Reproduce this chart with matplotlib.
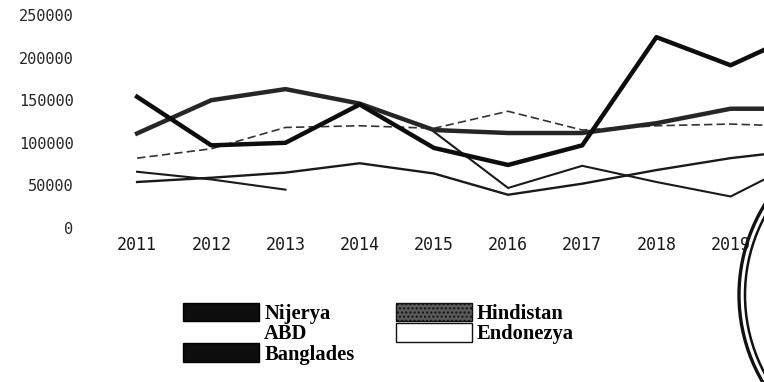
import numpy as np
import matplotlib
matplotlib.use("Agg")
import matplotlib.pyplot as plt
import matplotlib.patches as mpatches

# yearly values per country (last year only partly in view)
YEARS = [2011, 2012, 2013, 2014, 2015, 2016, 2017, 2018, 2019, 2020]
NIJERYA   = [154000,  97000, 100000, 145000,  94000,  74000,  97000, 224000, 191000, 231000]
HINDISTAN = [111000, 150000, 163000, 146000, 115000, 111500, 111500, 123000, 140000, 140000]
ABD       = [ 82000,  93000, 118000, 120000, 117000, 137000, 115000, 120000, 122000, 119000]
ENDONEZYA = [ 54000,  59000,  65000,  76000,  64000,  39000,  52000,  68000,  82000,  92000]
BANGLADES = [ 66000,  57000,  45000,  np.nan, 113000,  47000,  73000,  54000,  37000,  81000]

Y_TICKS = [0, 50000, 100000, 150000, 200000, 250000]
X_TICKS = [2011, 2012, 2013, 2014, 2015, 2016, 2017, 2018, 2019]
LEGEND_NAMES = ["Nijerya", "ABD", "Banglades", "Hindistan", "Endonezya"]

W, H = 764, 382
fig = plt.figure(figsize=(W / 100, H / 100), dpi=100)
ax = fig.add_axes([100 / W, (H - 228) / H, 1 - 100 / W, 213 / H])

ax.plot(YEARS, NIJERYA, color="#0d0d0d", lw=3.2, zorder=4)
ax.plot(YEARS, HINDISTAN, color="#262626", lw=3.2, zorder=3)
ax.plot(YEARS, ABD, color="#333333", lw=1.2, ls=(0, (5, 2.5)), zorder=2)
ax.plot(YEARS, ENDONEZYA, color="#1a1a1a", lw=1.7, zorder=2)
ax.plot(YEARS, BANGLADES, color="#1a1a1a", lw=1.5, zorder=2)

ax.set_xlim(2010.5, 2019.45)
ax.set_ylim(0, 250000)
ax.set_xticks(X_TICKS)
ax.set_xticklabels([str(y) for y in X_TICKS])
ax.set_yticks(Y_TICKS)
ax.set_yticklabels([str(v) for v in Y_TICKS])
ax.tick_params(axis="x", length=0, pad=6, labelsize=12, labelcolor="#1a1a1a")
ax.tick_params(axis="y", length=0, pad=19, labelsize=11, labelcolor="#262626")
for lab in ax.get_xticklabels() + ax.get_yticklabels():
    lab.set_family("DejaVu Sans Mono")
for s in ax.spines.values():
    s.set_visible(False)
ax.patch.set_alpha(0)

# legend boxes
handles = [
    mpatches.Patch(facecolor="#0d0d0d", edgecolor="#000000", lw=1.0),
    mpatches.Patch(facecolor="white", edgecolor="white", lw=0),
    mpatches.Patch(facecolor="#0d0d0d", edgecolor="#000000", lw=1.0),
    mpatches.Patch(facecolor="#5a5a5a", edgecolor="#111111", hatch="....", lw=1.0),
    mpatches.Patch(facecolor="white", edgecolor="#111111", lw=1.0),
]
leg = fig.legend(handles, LEGEND_NAMES, loc="upper left",
                 bbox_to_anchor=(183 / W, 1 - 303 / H), ncol=2,
                 frameon=False, borderpad=0, borderaxespad=0,
                 handlelength=3.7, handleheight=1.0, handletextpad=0.25,
                 labelspacing=-0.05, columnspacing=2.0,
                 prop={"family": "Liberation Serif", "weight": "bold", "size": 14.8})

# round stamp on the right edge
cx, cy = 911 / W, (H - 295) / H
for r, lw in [(172, 2.4), (166, 1.8)]:
    ring = mpatches.Ellipse((cx, cy), 2 * r / W, 2 * r / H, transform=fig.transFigure,
                            fill=False, edgecolor="#111111", lw=lw, zorder=10)
    fig.add_artist(ring)

fig.savefig("out.png", dpi=100)
